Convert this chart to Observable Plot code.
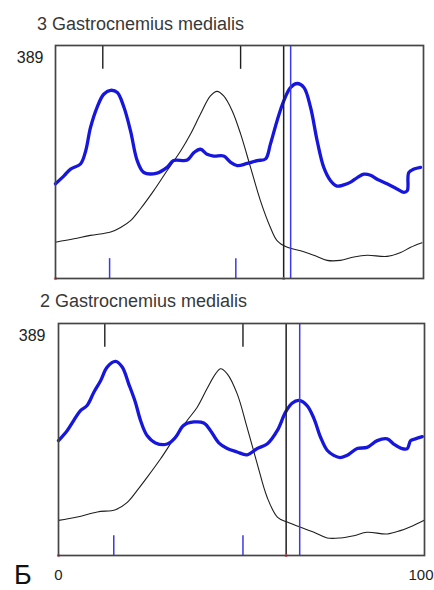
<!DOCTYPE html>
<html>
<head>
<meta charset="utf-8">
<script src="https://cdn.jsdelivr.net/npm/d3@7"></script>
<script src="https://cdn.jsdelivr.net/npm/@observablehq/plot@0.6"></script>
<style>
  html, body { margin: 0; padding: 0; background: #fff; }
  body { width: 434px; height: 590px; position: relative; overflow: hidden; font-family: "Liberation Sans", Arial, sans-serif; }
  .title { position: absolute; font-size: 18px; color: #383838; white-space: nowrap; line-height: 1; }
  .panel { position: absolute; left: 0; }
  .letter { position: absolute; left: 14px; top: 562px; font-size: 27px; color: #111; line-height: 1; }
</style>
</head>
<body>
<div class="title" id="t1" style="left:37px; top:15px;">3 Gastrocnemius medialis</div>
<div class="panel" id="p1" style="top:40px;"></div>
<div class="title" id="t2" style="left:40px; top:292px;">2 Gastrocnemius medialis</div>
<div class="panel" id="p2" style="top:318px;"></div>
<div class="letter">Б</div>
<script>
// ---- Panel 3 (top) ----
const topBlueX = [0, 2.3, 4.1, 6.8, 8.2, 9.5, 11.3, 13.1, 15.0, 16.8, 18.6, 20.4, 22.2, 24.0, 27.6, 30.3, 32.1, 35.8, 37.6, 39.4, 41.2, 43.0, 45.7, 47.6, 49.4, 52.1, 54.8, 57.1, 58.4, 60.2, 62.0, 63.9, 65.7, 67.5, 69.3, 71.1, 72.9, 74.7, 76.5, 78.3, 80.2, 82.0, 83.8, 85.6, 87.4, 90.1, 92.8, 94.7, 95.6, 96.0, 97.4, 99.2];
const topBlueY = [167, 181, 193, 202, 225, 266, 302, 325, 332, 328, 302, 260, 208, 187, 186, 196, 208, 209, 222, 228, 219, 216, 216, 205, 199, 203, 208, 211, 237, 278, 313, 337, 344, 337, 302, 243, 196, 173, 163, 165, 170, 178, 184, 182, 175, 167, 158, 152, 155, 187, 193, 196];
const topBlackX = [0, 5.0, 9.5, 15.0, 17.7, 20.4, 23.1, 26.7, 30.3, 34.0, 36.7, 39.4, 42.1, 43.9, 45.7, 48.0, 50.3, 53.0, 55.7, 58.4, 60.2, 63.0, 66.6, 70.2, 73.8, 77.4, 81.1, 84.7, 90.1, 93.8, 96.5, 99.6];
const topBlackY = [64, 70, 76, 82, 90, 102, 123, 155, 190, 225, 255, 290, 322, 330, 322, 296, 255, 196, 137, 90, 67, 55, 49, 41, 32, 32, 38, 41, 39, 46, 55, 63];
const topBlackTicks = [12.85, 50.3];
const topBlueTicks = [14.7, 49.0];
const topBlackLine = 62.0;
const topBlueLine = 63.9;

// ---- Panel 2 (bottom) ----
const botBlueX = [0, 2.4, 4.2, 6.0, 7.8, 9.7, 11.5, 13.3, 15.6, 17.4, 19.2, 21.0, 22.4, 24.2, 26.5, 29.7, 32.0, 34.2, 37.0, 39.7, 41.5, 43.8, 46.1, 48.8, 51.5, 54.3, 57.0, 59.8, 62.0, 63.8, 65.7, 67.9, 69.8, 71.6, 73.4, 75.2, 77.0, 78.9, 81.6, 84.3, 87.1, 89.8, 91.6, 93.9, 95.3, 96.2, 97.5, 99.4];
const botBlueY = [203, 221, 239, 256, 265, 289, 309, 333, 343, 333, 303, 271, 239, 212, 199, 197, 209, 230, 236, 234, 221, 199, 189, 183, 178, 189, 197, 221, 253, 269, 274, 265, 242, 209, 186, 177, 173, 177, 189, 191, 203, 206, 197, 189, 189, 203, 206, 210];
const botBlackX = [0, 5.1, 10.6, 15.6, 18.8, 21.5, 24.2, 27.9, 31.5, 35.2, 37.9, 40.6, 42.9, 44.3, 46.1, 48.8, 51.5, 54.3, 57.0, 59.8, 62.5, 66.1, 69.8, 73.4, 77.0, 80.7, 84.3, 89.8, 93.4, 96.2, 99.8];
const botBlackY = [62, 68, 77, 81, 94, 115, 138, 171, 206, 239, 262, 295, 321, 330, 321, 286, 227, 162, 103, 68, 59, 50, 41, 31, 31, 35, 41, 38, 44, 51, 62];
const botBlackTicks = [12.65, 50.4];
const botBlueTicks = [15.1, 50.4];
const botBlackLine = 62.2;
const botBlueLine = 65.9;

const yTick = [389];
const xTickStart = [0];
const xTickEnd = [100];

const BLUE = "#1616dc";
const THIN_BLUE = "#3a3ae8";
const BLACK = "#1e1e1e";
const FRAME = "#454545";

function zip(xs, ys) { return xs.map((x, i) => ({x, y: ys[i]})); }

function panel({blueX, blueY, blackX, blackY, blackTicks, blueTicks, blackLine, blueLine, yMax, height, marginTop, marginBottom, marginLeft, marginRight, showX, tickPad}) {
  const marks = [
    Plot.line(zip(blackX, blackY), {x: "x", y: "y", stroke: BLACK, strokeWidth: 1.1, curve: "catmull-rom"}),
    Plot.line(zip(blueX, blueY), {x: "x", y: "y", stroke: BLUE, strokeWidth: 3.3, strokeLinejoin: "round", curve: "catmull-rom"}),
    Plot.ruleX(blackTicks, {x: d => d, y1: yMax - 42, y2: yMax, stroke: BLACK, strokeWidth: 1.4}),
    Plot.ruleX(blueTicks, {x: d => d, y1: 0, y2: 35, stroke: THIN_BLUE, strokeWidth: 1.5}),
    Plot.ruleX([blackLine], {x: d => d, y1: 0, y2: yMax, stroke: BLACK, strokeWidth: 1.5}),
    Plot.ruleX([blueLine], {x: d => d, y1: 0, y2: yMax, stroke: THIN_BLUE, strokeWidth: 1.5}),
    Plot.dot([0, blackLine], {x: d => d, y: 0, r: 1.6, fill: "#f06070", stroke: "none"}),
    Plot.frame({stroke: FRAME, strokeWidth: 1.7}),
    Plot.axisY(yTick, {tickSize: 0, tickPadding: tickPad, fontSize: 16, fill: "#222", label: null})
  ];
  if (showX) {
    marks.push(Plot.axisX(xTickStart, {tickSize: 0, tickPadding: 14, fontSize: 15, fill: "#222", label: null}));
    marks.push(Plot.axisX(xTickEnd, {tickSize: 0, tickPadding: 14, fontSize: 15, fill: "#222", label: null, textAnchor: "end", dx: 9}));
  }
  return Plot.plot({
    width: 434, height, marginTop, marginBottom, marginLeft, marginRight,
    x: {domain: [0, 100], axis: null},
    y: {domain: [0, yMax], axis: null},
    style: {fontFamily: "'Liberation Sans', Arial, sans-serif", background: "white", overflow: "hidden"},
    marks
  });
}

document.getElementById("p1").appendChild(panel({
  blueX: topBlueX, blueY: topBlueY, blackX: topBlackX, blackY: topBlackY,
  blackTicks: topBlackTicks, blueTicks: topBlueTicks, blackLine: topBlackLine, blueLine: topBlueLine,
  yMax: 411, height: 245, marginTop: 5, marginBottom: 7, marginLeft: 55, marginRight: 11, showX: false, tickPad: 12
}));
document.getElementById("p2").appendChild(panel({
  blueX: botBlueX, blueY: botBlueY, blackX: botBlackX, blackY: botBlackY,
  blackTicks: botBlackTicks, blueTicks: botBlueTicks, blackLine: botBlackLine, blueLine: botBlueLine,
  yMax: 410, height: 272, marginTop: 5, marginBottom: 35, marginLeft: 58, marginRight: 10, showX: true, tickPad: 13
}));
</script>
</body>
</html>
